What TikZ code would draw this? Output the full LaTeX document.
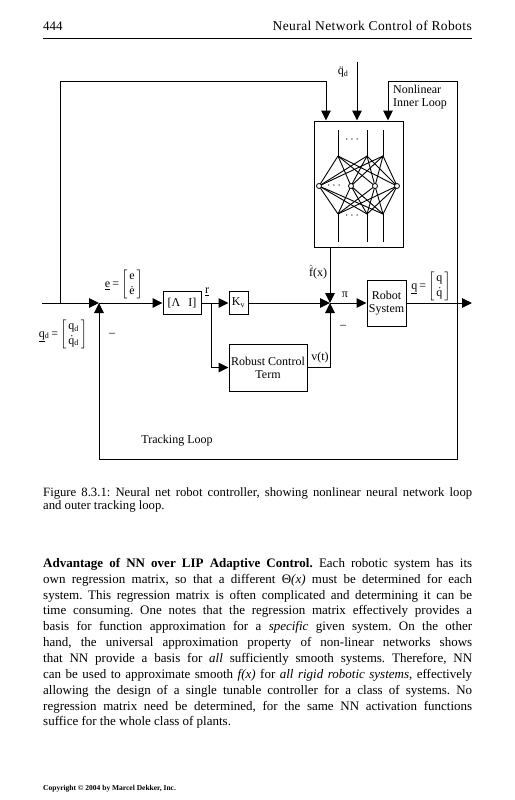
\documentclass[tikz,border=0pt]{standalone}
\usepackage{fontspec}
\setmainfont{Liberation Serif}
\usepackage{amsmath}
\usetikzlibrary{arrows.meta, positioning, calc}
\frenchspacing

\begin{document}
\begin{tikzpicture}[
    x=1pt, y=-1pt,
    block/.style={draw, line width=1pt, inner sep=1pt, align=center, font=\fontsize{12}{13}\selectfont},
    lbl/.style={inner sep=0pt, font=\fontsize{12}{13}\selectfont},
    neuron/.style={draw, circle, fill=white, inner sep=0pt, minimum size=5pt, line width=0.8pt},
    net/.style={line width=0.9pt},
    arrow/.style={-{Triangle[length=10pt, width=9.5pt]}, line width=1pt},
    pagetext/.style={inner sep=0pt, anchor=north west, align=left}
]
\useasboundingbox (0,0) rectangle (514,800);

% Kopfzeile
\node[inner sep=0pt, anchor=base west, font=\fontsize{13}{15}\selectfont] (pagenum) at (43,31) {444};
\node[inner sep=0pt, anchor=base east, font=\fontsize{13.5}{15}\selectfont\addfontfeature{LetterSpace=3}] (runhead) at (472,31) {Neural Network Control of Robots};
\draw[line width=0.6pt] (43,38) -- (472,38);

% Bloecke
\node[block, minimum width=89pt, minimum height=126pt] (nn) at (358.5,184) {};
\node[block, minimum width=38pt, minimum height=23pt] (lam) at (182,303) {[Λ\hspace{8pt}I]};
\node[block, minimum width=19pt, minimum height=23pt] (kv) at (238.5,303) {K\textsubscript{v}};
\node[block, minimum width=78pt, minimum height=47pt] (robust) at (268,367.5) {Robust Control\\Term};
\node[block, minimum width=39pt, minimum height=46pt] (robot) at (386.5,303) {Robot\\System};

% Knotenpunkte
\coordinate (qdin) at (42,303);
\coordinate (tap) at (60,303);
\coordinate (sum1) at (99,303);
\coordinate (branch) at (211,303);
\coordinate (sum2) at (330,303);
\coordinate (fb) at (457,303);
\coordinate (qout) at (472,303);
\coordinate (toploop) at (326,81);
\coordinate (qddin) at (357,62);
\coordinate (inner) at (388,81);
\coordinate (track) at (99,459);

% Neuronales Netz
\foreach \x [count=\i] in {338,367,383} {
    \coordinate (intop\i) at (\x,130);
    \coordinate (in\i) at (\x,156);
    \coordinate (out\i) at (\x,214);
    \coordinate (outbot\i) at (\x,242);
    \draw[net] (intop\i) -- (in\i);
    \draw[net] (out\i) -- (outbot\i);
}
\foreach \x [count=\j] in {319,351,375,397}
    \coordinate (hid\j) at (\x,186);
\foreach \i in {1,2,3}
    \foreach \j in {1,...,4}
        \draw[net] (in\i) -- (hid\j) -- (out\i);
\foreach \j in {1,...,4}
    \node[neuron] (h\j) at (hid\j) {};
\node[lbl] (dotsin) at (353,140) {$\cdots$};
\node[lbl] (dotshid) at (335,186) {$\cdots$};
\node[lbl] (dotsout) at (353,216) {$\cdots$};

% Verbindungen
\draw[arrow] (qdin) -- (sum1);
\draw[arrow] (tap) |- (toploop) -- (toploop |- nn.north);
\draw[arrow] (qddin) -- (qddin |- nn.north);
\draw[arrow] (fb) |- (inner) -- (inner |- nn.north);
\draw[arrow] (fb) |- (track) -- (sum1);
\draw[arrow] (sum1) -- (lam);
\draw[arrow] (lam) -- (kv);
\draw[arrow] (branch) |- (robust.west);
\draw[arrow] (kv) -- (sum2);
\draw[arrow] (sum2 |- nn.south) -- (sum2);
\draw[arrow] (robust.east) -| (sum2);
\draw[arrow] (sum2) -- (robot);
\draw[arrow] (robot) -- (qout);

% Beschriftungen
\renewcommand{\arraystretch}{1.1}
\node[lbl] (qddlbl) at (343,72) {\"{q}\textsubscript{d}};
\node[lbl, anchor=north west, align=left] (innerlbl) at (393,85) {Nonlinear\\Inner Loop};
\node[lbl] (fhatlbl) at (318,272) {$\hat{\text{f}}$(x)};
\node[lbl] (pilbl) at (345,295) {π};
\node[lbl] (elbl) at (124,284) {\underline{e}\,=\,$\left[\text{\begin{tabular}{@{\,}c@{\,}}e\\\.{e}\end{tabular}}\right]$};
\node[lbl] (rlbl) at (207,292) {\underline{r}};
\node[lbl] (qdlbl) at (63,334) {\underline{q}\textsubscript{d}\,=\,$\left[\text{\begin{tabular}{@{\,}c@{\,}}q\textsubscript{d}\\\.{q}\textsubscript{d}\end{tabular}}\right]$};
\node[lbl] (minus1) at (112,335) {\textendash};
\node[lbl] (minus2) at (343,327) {\textendash};
\node[lbl] (vlbl) at (320,358) {v(t)};
\node[lbl] (qlbl) at (431,286) {\underline{q}\,=\,$\left[\text{\begin{tabular}{@{\,}c@{\,}}q\\\.{q}\end{tabular}}\right]$};
\node[lbl] (tracklbl) at (177,441) {Tracking Loop};

% Bildunterschrift und Text
\node[pagetext, font=\fontsize{12.7}{13.8}\selectfont] (caption) at (43,487) {%
\makebox[429pt][s]{Figure 8.3.1: Neural net robot controller, showing nonlinear neural network loop}\\
and outer tracking loop.};

\node[pagetext, font=\fontsize{13}{15.85}\selectfont] (para) at (43,558) {%
\makebox[429pt][s]{\textbf{Advantage of NN over LIP Adaptive Control.} Each robotic system has its}\\
\makebox[429pt][s]{own regression matrix, so that a different Θ\textit{(x)} must be determined for each}\\
\makebox[429pt][s]{system. This regression matrix is often complicated and determining it can be}\\
\makebox[429pt][s]{time consuming. One notes that the regression matrix effectively provides a}\\
\makebox[429pt][s]{basis for function approximation for a \textit{specific} given system. On the other}\\
\makebox[429pt][s]{hand, the universal approximation property of non-linear networks shows}\\
\makebox[429pt][s]{that NN provide a basis for \textit{all} sufficiently smooth systems. Therefore, NN}\\
\makebox[429pt][s]{can be used to approximate smooth \textit{f(x)} for \textit{all rigid robotic systems,} effectively}\\
\makebox[429pt][s]{allowing the design of a single tunable controller for a class of systems. No}\\
\makebox[429pt][s]{regression matrix need be determined, for the same NN activation functions}\\
suffice for the whole class of plants.};

\node[inner sep=0pt, anchor=base west, font=\fontsize{7.5}{9}\selectfont\bfseries] (copyright) at (43,790) {Copyright © 2004 by Marcel Dekker, Inc.};
\end{tikzpicture}
\end{document}
